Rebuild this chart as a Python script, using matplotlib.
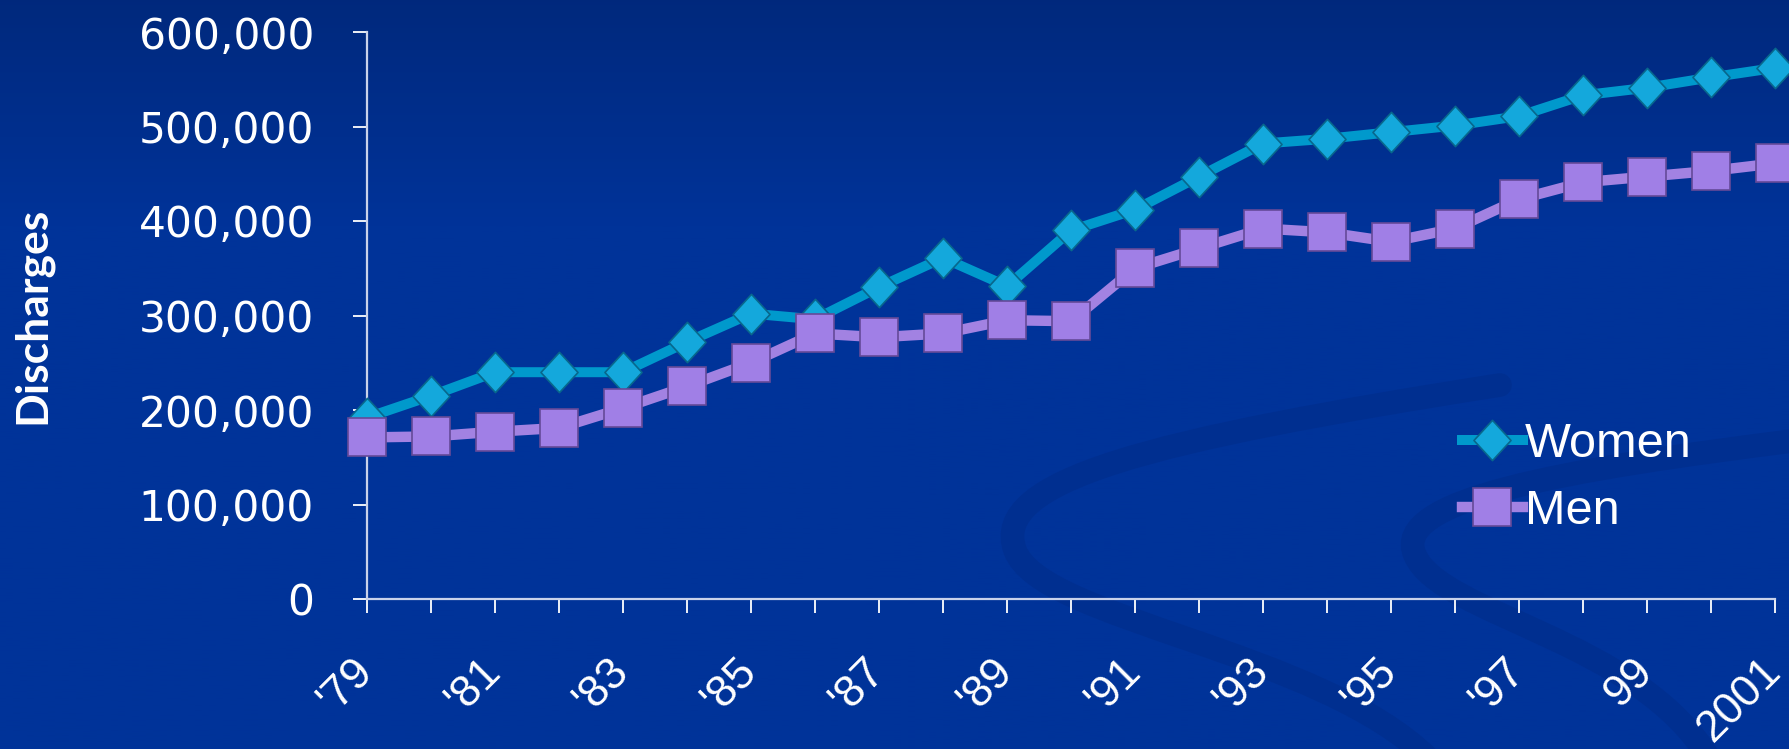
import numpy as np
import matplotlib
matplotlib.use("Agg")
import matplotlib.pyplot as plt
from matplotlib.path import Path
from matplotlib.patches import PathPatch
import matplotlib.transforms as mtransforms

# Số liệu
years = ["'79", "'80", "'81", "'82", "'83", "'84", "'85", "'86", "'87", "'88", "'89", "'90",
         "'91", "'92", "'93", "'94", "'95", "'96", "'97", "'98", "99", "'00", "2001"]
women = [192000, 215000, 240000, 240000, 240000, 272000, 302000, 296000, 330000, 361000,
         331000, 390000, 412000, 447000, 482000, 487000, 494000, 501000, 511000, 533000,
         541000, 552000, 562000]
men = [171000, 172000, 177000, 181000, 202000, 225000, 250000, 281000, 277000, 281000,
       295000, 294000, 350000, 371000, 392000, 388000, 378000, 392000, 423000, 441000,
       447000, 453000, 461000]
yticks = [0, 100000, 200000, 300000, 400000, 500000, 600000]

W, H = 1789, 749
fig = plt.figure(figsize=(W / 100, H / 100), dpi=100)

# nền xanh đậm, tối hơn ở phía trên
bg = fig.add_axes([0, 0, 1, 1], zorder=0)
t = np.linspace(0, 1, 300)
top = np.array([0.0, 0.16, 0.49])
mid = np.array([0.0, 0.20, 0.60])
k = np.clip(t / 0.3, 0, 1)[:, None]
grad = (top * (1 - k) + mid * k)[:, None, :]
bg.imshow(grad, extent=[0, W, H, 0], aspect="auto")

# hai dải cong mờ trang trí (hình chữ S)
C = Path.CURVE4
band1 = Path([(1500, 385), (1150, 440), (990, 480), (1015, 550),
              (1040, 620), (1320, 650), (1430, 760)],
             [Path.MOVETO, C, C, C, C, C, C])
band2 = Path([(1800, 440), (1560, 470), (1390, 500), (1415, 555),
              (1440, 615), (1640, 640), (1710, 760)],
             [Path.MOVETO, C, C, C, C, C, C])
for p in [band1, band2]:
    bg.add_patch(PathPatch(p, fill=False, lw=17, ec=(0.0, 0.183, 0.565),
                           capstyle="round"))
bg.set_xlim(0, W)
bg.set_ylim(H, 0)
bg.axis("off")

ax = fig.add_axes([367 / W, 1 - 599 / H, (1775 - 367) / W, (599 - 32) / H], zorder=1)
ax.set_facecolor("none")

diamond = Path([(0, 1), (0.92, 0), (0, -1), (-0.92, 0), (0, 1)],
               [Path.MOVETO, Path.LINETO, Path.LINETO, Path.LINETO, Path.CLOSEPOLY])

x = np.arange(len(years))
ax.plot(x, women, color="#0099cc", lw=7.2, marker=diamond, ms=29,
        mfc="#14a8dc", mec="#08678c", mew=1.2, label="Women", clip_on=False, zorder=3)
ax.plot(x, men, color="#a282e2", lw=7.5, marker="s", ms=28,
        mfc="#a07fe6", mec="#654a98", mew=1.2, label="Men", clip_on=False, zorder=4)

ax.set_xlim(0, len(years) - 1)
ax.set_ylim(0, 600000)

for s in ["top", "right"]:
    ax.spines[s].set_visible(False)
for s in ["left", "bottom"]:
    ax.spines[s].set_color("#c9d2ea")
    ax.spines[s].set_linewidth(1.6)

ax.set_yticks(yticks)
ax.set_yticklabels([f"{v:,}" for v in yticks], fontsize=30.5, color="white",
                   family="DejaVu Sans")
ax.set_xticks(x)
ax.set_xticklabels([y if i % 2 == 0 else "" for i, y in enumerate(years)],
                   rotation=45, ha="right", fontsize=32, color="white",
                   family="Liberation Sans")
ax.tick_params(axis="both", direction="out", length=10, width=1.3, color="white")
ax.tick_params(axis="y", pad=28)
ax.tick_params(axis="x", pad=27)
shift = mtransforms.ScaledTranslation(14 / 100, 0, fig.dpi_scale_trans)
for lab in ax.get_xticklabels():
    lab.set_transform(lab.get_transform() + shift)

ax.set_ylabel("Discharges", fontsize=32, fontweight="bold", color="white",
              family="Lato", labelpad=62)

leg = fig.legend(loc="upper left", bbox_to_anchor=(1462 / W, 1 - 422 / H),
                 frameon=False, handlelength=1.25, handletextpad=0.05,
                 labelspacing=0.45, borderpad=0, borderaxespad=0,
                 prop={"family": "Liberation Sans", "size": 35})
for txt in leg.get_texts():
    txt.set_color("white")

fig.savefig("out.png", dpi=100)
